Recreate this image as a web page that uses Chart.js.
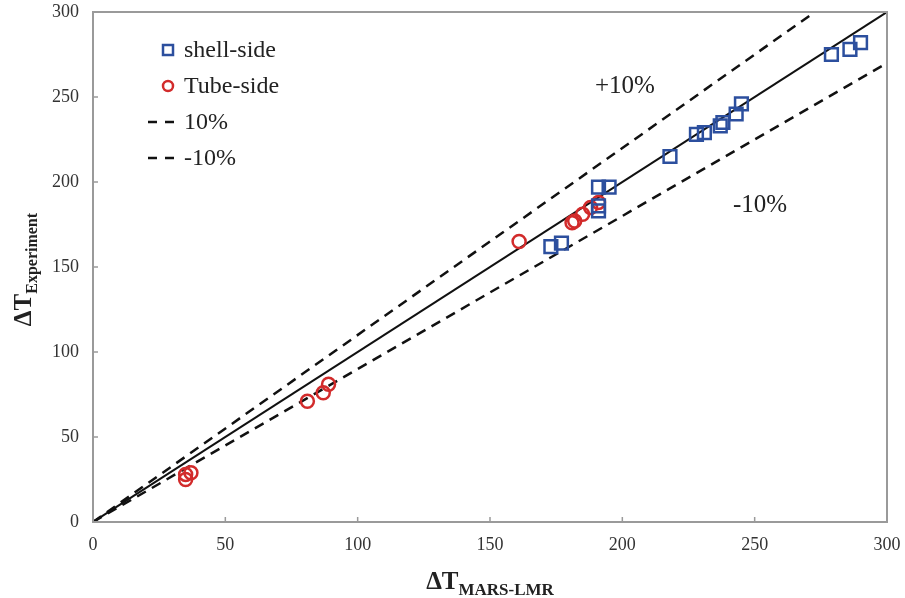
<!DOCTYPE html>
<html>
<head>
<meta charset="utf-8">
<script src="https://cdn.jsdelivr.net/npm/chart.js@4/dist/chart.umd.min.js"></script>
<style>
  html, body { margin: 0; padding: 0; background: #fff; }
  #wrap { width: 905px; height: 598px; }
</style>
</head>
<body>
<div id="wrap"><canvas id="chart" width="905" height="598"></canvas></div>
<script>
// données
const shellX = [173, 177, 191, 191, 191, 195, 218, 228, 231, 237, 238, 243, 245, 279, 286, 290];
const shellY = [162, 164, 183, 186, 197, 197, 215, 228, 229, 233, 235, 240, 246, 275, 278, 282];
const tubeX = [35, 35, 37, 81, 87, 89, 161, 181, 182, 185, 188, 191];
const tubeY = [25, 28, 29, 71, 76, 81, 165, 176, 177, 181, 185, 188];
const refX = [0, 300];
const oneToOneY = [0, 300];
const plus10Y = [0, 330];
const minus10Y = [0, 270];
const tickValues = [0, 50, 100, 150, 200, 250, 300];

const blue = "#2c4f9e";
const red = "#d22b2b";
const serif = "'Liberation Serif', 'DejaVu Serif', serif";

const pts = (xs, ys) => xs.map((x, i) => ({ x, y: ys[i] }));

// cadre, petites graduations intérieures, titres d'axes, légende et annotations
const decorations = {
  id: "decorations",
  afterDraw(chart) {
    const { ctx, chartArea: a, scales } = chart;
    const xs = scales.x, ys = scales.y;
    ctx.save();
    ctx.strokeStyle = "#9a9a9a";
    ctx.lineWidth = 2;
    ctx.strokeRect(a.left, a.top, a.right - a.left, a.bottom - a.top);
    ctx.lineWidth = 1.5;
    ctx.beginPath();
    tickValues.forEach((v) => {
      const px = xs.getPixelForValue(v);
      ctx.moveTo(px, a.bottom);
      ctx.lineTo(px, a.bottom - 5);
      const py = ys.getPixelForValue(v);
      ctx.moveTo(a.left, py);
      ctx.lineTo(a.left + 5, py);
    });
    ctx.stroke();

    // titre axe x
    ctx.fillStyle = "#222";
    ctx.textBaseline = "alphabetic";
    ctx.textAlign = "left";
    const mainFont = "bold 25px " + serif;
    const subFont = "bold 17px " + serif;
    ctx.font = mainFont;
    const wMain = ctx.measureText("ΔT").width;
    ctx.font = subFont;
    const wSub = ctx.measureText("MARS-LMR").width;
    let x0 = (a.left + a.right) / 2 - (wMain + wSub) / 2;
    ctx.font = mainFont;
    ctx.fillText("ΔT", x0, 589);
    ctx.font = subFont;
    ctx.fillText("MARS-LMR", x0 + wMain, 595);

    // titre axe y
    ctx.save();
    ctx.translate(31, (a.top + a.bottom) / 2);
    ctx.rotate(-Math.PI / 2);
    ctx.font = subFont;
    const wSubY = ctx.measureText("Experiment").width;
    let y0 = -(wMain + wSubY) / 2;
    ctx.font = mainFont;
    ctx.fillText("ΔT", y0, 0);
    ctx.font = "bold 16px " + serif;
    ctx.fillText("Experiment", y0 + wMain, 6);
    ctx.restore();

    // annotations
    ctx.font = "25px " + serif;
    ctx.textAlign = "center";
    ctx.textBaseline = "middle";
    ctx.fillText("+10%", xs.getPixelForValue(201), ys.getPixelForValue(256));
    ctx.fillText("-10%", xs.getPixelForValue(252), ys.getPixelForValue(186));

    // légende
    ctx.textAlign = "left";
    ctx.font = "24px " + serif;
    const rows = [50, 86, 122, 158];
    const labels = ["shell-side", "Tube-side", "10%", "-10%"];
    ctx.lineWidth = 2.5;
    ctx.strokeStyle = blue;
    ctx.strokeRect(163, rows[0] - 5, 10, 10);
    ctx.strokeStyle = red;
    ctx.beginPath();
    ctx.arc(168, rows[1], 5, 0, Math.PI * 2);
    ctx.stroke();
    ctx.strokeStyle = "#111";
    ctx.lineWidth = 2.5;
    [rows[2], rows[3]].forEach((ry) => {
      ctx.beginPath();
      ctx.moveTo(148, ry);
      ctx.lineTo(157, ry);
      ctx.moveTo(165, ry);
      ctx.lineTo(174, ry);
      ctx.stroke();
    });
    labels.forEach((t, i) => ctx.fillText(t, 184, rows[i] + 1));
    ctx.restore();
  },
};

const axisCommon = {
  type: "linear",
  min: 0,
  max: 300,
  grid: { display: false, drawTicks: false },
  border: { display: false },
  ticks: {
    stepSize: 50,
    color: "#333",
    font: { family: serif, size: 18 },
  },
};

new Chart(document.getElementById("chart"), {
  type: "scatter",
  data: {
    datasets: [
      {
        label: "1:1",
        data: pts(refX, oneToOneY),
        showLine: true,
        borderColor: "#111",
        borderWidth: 2,
        pointRadius: 0,
        order: 3,
      },
      {
        label: "10%",
        data: pts(refX, plus10Y),
        showLine: true,
        borderColor: "#111",
        borderWidth: 2.5,
        borderDash: [10, 7],
        pointRadius: 0,
        order: 3,
      },
      {
        label: "-10%",
        data: pts(refX, minus10Y),
        showLine: true,
        borderColor: "#111",
        borderWidth: 2.5,
        borderDash: [10, 7],
        pointRadius: 0,
        order: 3,
      },
      {
        label: "shell-side",
        data: pts(shellX, shellY),
        pointStyle: "rect",
        pointRadius: 9,
        borderColor: blue,
        backgroundColor: "rgba(0,0,0,0)",
        borderWidth: 2.5,
        order: 1,
      },
      {
        label: "Tube-side",
        data: pts(tubeX, tubeY),
        pointStyle: "circle",
        pointRadius: 6.5,
        borderColor: red,
        backgroundColor: "rgba(0,0,0,0)",
        borderWidth: 2.5,
        order: 2,
      },
    ],
  },
  options: {
    responsive: false,
    animation: false,
    layout: { padding: { top: 12, right: 18, left: 0, bottom: 0 } },
    plugins: { legend: { display: false }, tooltip: { enabled: false } },
    scales: {
      x: {
        ...axisCommon,
        ticks: { ...axisCommon.ticks, padding: 12 },
        afterFit: (scale) => {
          scale.height = 76;
          scale.paddingLeft = 0;
          scale.paddingRight = 0;
        },
      },
      y: {
        ...axisCommon,
        ticks: { ...axisCommon.ticks, padding: 14 },
        afterFit: (scale) => {
          scale.width = 93;
          scale.paddingTop = 0;
          scale.paddingBottom = 0;
        },
      },
    },
  },
  plugins: [decorations],
});
</script>
</body>
</html>
